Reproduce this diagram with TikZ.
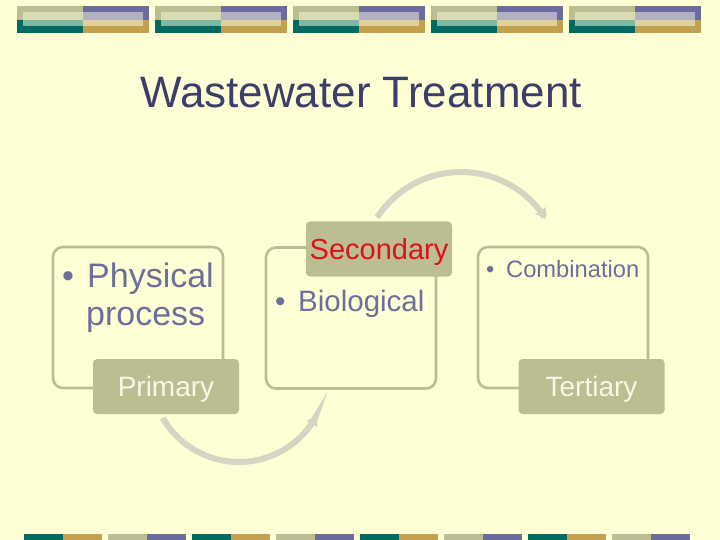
\documentclass[tikz,border=0pt]{standalone}
\usepackage{fontspec}
\setmainfont{Liberation Sans}
\usetikzlibrary{arrows.meta}
\definecolor{bg}{HTML}{FFFFD5}
\definecolor{khaki}{HTML}{BDBD92}
\definecolor{tealc}{HTML}{006B62}
\definecolor{purplec}{HTML}{6B6B9F}
\definecolor{goldc}{HTML}{C3A04F}
\definecolor{palekhaki}{HTML}{D9DCB1}
\definecolor{paleteal}{HTML}{7FB7A1}
\definecolor{palepurple}{HTML}{B1B1C1}
\definecolor{palegold}{HTML}{E1D098}
\definecolor{titlec}{HTML}{3D3D6B}
\definecolor{bodyc}{HTML}{6E6E9E}
\definecolor{arrowc}{HTML}{D5D5C3}
\definecolor{redc}{HTML}{E0101A}
\definecolor{labelc}{HTML}{F7F7E6}
\tikzset{
  outbox/.style={draw=khaki, line width=2.6pt, rounded corners=10pt, minimum width=170pt, minimum height=141pt},
  labelbox/.style={fill=khaki, rounded corners=4pt, minimum width=146pt, minimum height=55pt, inner sep=0pt,
    font=\fontsize{28}{32}\selectfont, text height=20pt, text depth=0pt},
  bodytext/.style={text=bodyc, anchor=base west, inner sep=0pt},
  arr/.style={draw=arrowc, line width=6pt},
}
\begin{document}
\begin{tikzpicture}[x=1pt,y=-1pt]
\useasboundingbox (0,0) rectangle (720,540);
\fill[bg] (0,0) rectangle (720,540);
% top decorative blocks
\foreach \i in {0,...,4}{
  \pgfmathsetmacro\bx{17+138*\i}
  \fill[khaki] (\bx,6) rectangle ++(66,14);
  \fill[tealc] (\bx,20) rectangle ++(66,13);
  \fill[purplec] (\bx+66,6) rectangle ++(66,14);
  \fill[goldc] (\bx+66,20) rectangle ++(66,13);
  \fill[palekhaki] (\bx+6,12) rectangle (\bx+66,20);
  \fill[paleteal] (\bx+6,20) rectangle (\bx+66,26);
  \fill[palepurple] (\bx+66,12) rectangle (\bx+126,20);
  \fill[palegold] (\bx+66,20) rectangle (\bx+126,26);
}
% bottom decorative bars
\foreach \i in {0,...,3}{
  \pgfmathsetmacro\cx{24+168*\i}
  \fill[tealc] (\cx,534) rectangle ++(39,6);
  \fill[goldc] (\cx+39,534) rectangle ++(39,6);
  \fill[khaki] (\cx+84,534) rectangle ++(39,6);
  \fill[purplec] (\cx+123,534) rectangle ++(39,6);
}
% title
\node[text=titlec, font=\fontsize{44}{50}\selectfont, anchor=base, inner sep=0pt] (title) at (361,108) {Wastewater Treatment};
% circular arrows
\draw[arr, -{Triangle[length=10pt,width=12pt]}] plot[domain=213:328, samples=60, smooth] ({461+100*cos(\x)},{272+100*sin(\x)});
\draw[arr, {Triangle[length=10pt,width=12pt]}-] plot[domain=28:150, samples=60, smooth] ({239+88*cos(\x)},{374+88*sin(\x)});
% outline boxes
\node[outbox] (b1) at (138,317.5) {};
\node[outbox] (b2) at (351,318) {};
\node[outbox] (b3) at (563,317.5) {};
% body texts
\node[bodytext, font=\fontsize{34}{38}\selectfont] (bul1) at (62,287) {•};
\node[bodytext, font=\fontsize{34}{38}\selectfont] (t1a) at (87,287) {Physical};
\node[bodytext, font=\fontsize{34}{38}\selectfont] (t1b) at (86,325) {process};
\node[bodytext, font=\fontsize{29.5}{33}\selectfont] (bul2) at (275,311) {•};
\node[bodytext, font=\fontsize{29.5}{33}\selectfont] (t2) at (298,311) {Biological};
\node[bodytext, font=\fontsize{23.7}{27}\selectfont] (bul3) at (486,277) {•};
\node[bodytext, font=\fontsize{23.7}{27}\selectfont] (t3) at (506,277) {Combination};
% label boxes
\node[labelbox, text=labelc] (l1) at (166,386.5) {Primary};
\node[labelbox, text=redc, font=\fontsize{29}{32}\selectfont] (l2) at (379,249) {Secondary};
\node[labelbox, text=labelc] (l3) at (591.5,386.5) {Tertiary};
\end{tikzpicture}
\end{document}
